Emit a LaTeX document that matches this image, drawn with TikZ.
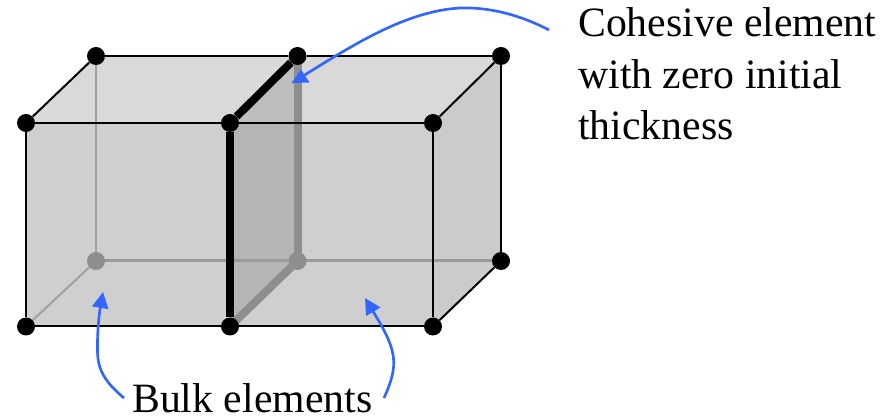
\documentclass[tikz,border=0pt]{standalone}
\usepackage{fontspec}
\setmainfont{Liberation Serif}
\definecolor{topf}{HTML}{D9D9D9}
\definecolor{frontf}{HTML}{CFCFCF}
\definecolor{sidef}{HTML}{CBCBCB}
\definecolor{hid}{HTML}{8E8E8E}
\definecolor{hidthin}{HTML}{A0A0A0}
\definecolor{hidline}{HTML}{9A9A9A}
\definecolor{arrowblue}{HTML}{3366FF}
\usetikzlibrary{arrows.meta}
\tikzset{
  x=0.75pt,y=-0.75pt,
  vis/.style={circle,fill=black,inner sep=0pt,minimum size=13.5pt},
  hidn/.style={circle,fill=hid,inner sep=0pt,minimum size=13.5pt},
  edge/.style={draw=black,line width=1.5pt},
  thick edge/.style={draw=black,line width=6pt},
  hid edge/.style={draw=hidthin,line width=1.5pt},
  hid mid/.style={draw=hidline,line width=2.25pt},
  hid thick/.style={draw=hid,line width=6pt},
  callout/.style={draw=arrowblue,line width=2pt},
  callout tip/.style={-{Triangle[length=12pt,width=12pt]}},
  lab/.style={inner sep=0pt,font=\fontsize{31.3pt}{37.5pt}\selectfont,align=left,text=black}
}
\begin{document}
\begin{tikzpicture}
\useasboundingbox (0,0) rectangle (896,416);
\coordinate (F1) at (26,123); \coordinate (F2) at (230,123); \coordinate (F3) at (433,123);
\coordinate (F4) at (26,326.5); \coordinate (F5) at (230,326.5); \coordinate (F6) at (433,326.5);
\coordinate (B1) at (96,56); \coordinate (B2) at (297.5,56); \coordinate (B3) at (501,56);
\coordinate (B4) at (96,261); \coordinate (B5) at (297.5,261); \coordinate (B6) at (501,261);
% faces
\fill[topf] (F1)--(B1)--(B3)--(F3)--cycle;
\fill[frontf] (F1)--(F3)--(F6)--(F4)--cycle;
\fill[sidef] (F3)--(B3)--(B6)--(F6)--cycle;
\fill[black,opacity=0.12] (F2)--(B2)--(B5)--(F5)--cycle;
% hidden edges
\draw[hid edge] (B1)--(B4);
\draw[hid edge] (B4)--(F4);
\draw[hid mid] (B4)--(B6);
\draw[hid thick] (B2)--(B5);
\draw[hid thick] (B5)--(F5);
\node[hidn] (nb4) at (B4) {};
\node[hidn] (nb5) at (B5) {};
% visible edges
\node[vis] (nf1) at (F1) {}; \node[vis] (nf2) at (F2) {}; \node[vis] (nf3) at (F3) {};
\node[vis] (nf4) at (F4) {}; \node[vis] (nf5) at (F5) {}; \node[vis] (nf6) at (F6) {};
\node[vis] (nb1) at (B1) {}; \node[vis] (nb2) at (B2) {}; \node[vis] (nb3) at (B3) {};
\node[vis] (nb6) at (B6) {};
\draw[edge] (nf1)--(nf2); \draw[edge] (nf2)--(nf3);
\draw[edge] (nf4)--(nf5); \draw[edge] (nf5)--(nf6);
\draw[edge] (nf1)--(nf4); \draw[edge] (nf3)--(nf6);
\draw[edge] (nb1)--(nb2); \draw[edge] (nb2)--(nb3);
\draw[edge] (nb3)--(nb6);
\draw[edge] (nf1)--(nb1); \draw[edge] (nf3)--(nb3); \draw[edge] (nf6)--(nb6);
\draw[thick edge] (nf2)--(nb2);
\draw[thick edge] (nf2)--(nf5);
% labels
\node[lab,anchor=base west] (coh) at (578,37) {Cohesive element};
\node[lab,anchor=base west] (coh2) at (578,89) {with zero initial};
\node[lab,anchor=base west] (coh3) at (578,140) {thickness};
\node[lab,anchor=base west] (bulk) at (132,412) {Bulk elements};
% callouts
\coordinate (c1s) at (549,30);
\coordinate (c1e) at (303,76);
\draw[callout] (c1s) .. controls (520,15) and (490,7) .. (460,8) .. controls (405,11) and (350,47) .. (c1e);
\fill[arrowblue] (301,69.5)--(291.5,83)--(309.5,82.5)--cycle;
\coordinate (c2s) at (124,398);
\coordinate (c2e) at (103,292);
\draw[callout,callout tip] (c2s) .. controls (100,378) and (97,365) .. (97.5,345) .. controls (97.5,330) and (99,315) .. (c2e);
\coordinate (c3s) at (384,398);
\coordinate (c3e) at (365,298);
\draw[callout,callout tip] (c3s) .. controls (393,378) and (396,365) .. (392,350) .. controls (388,335) and (377,318) .. (c3e);
\end{tikzpicture}
\end{document}
